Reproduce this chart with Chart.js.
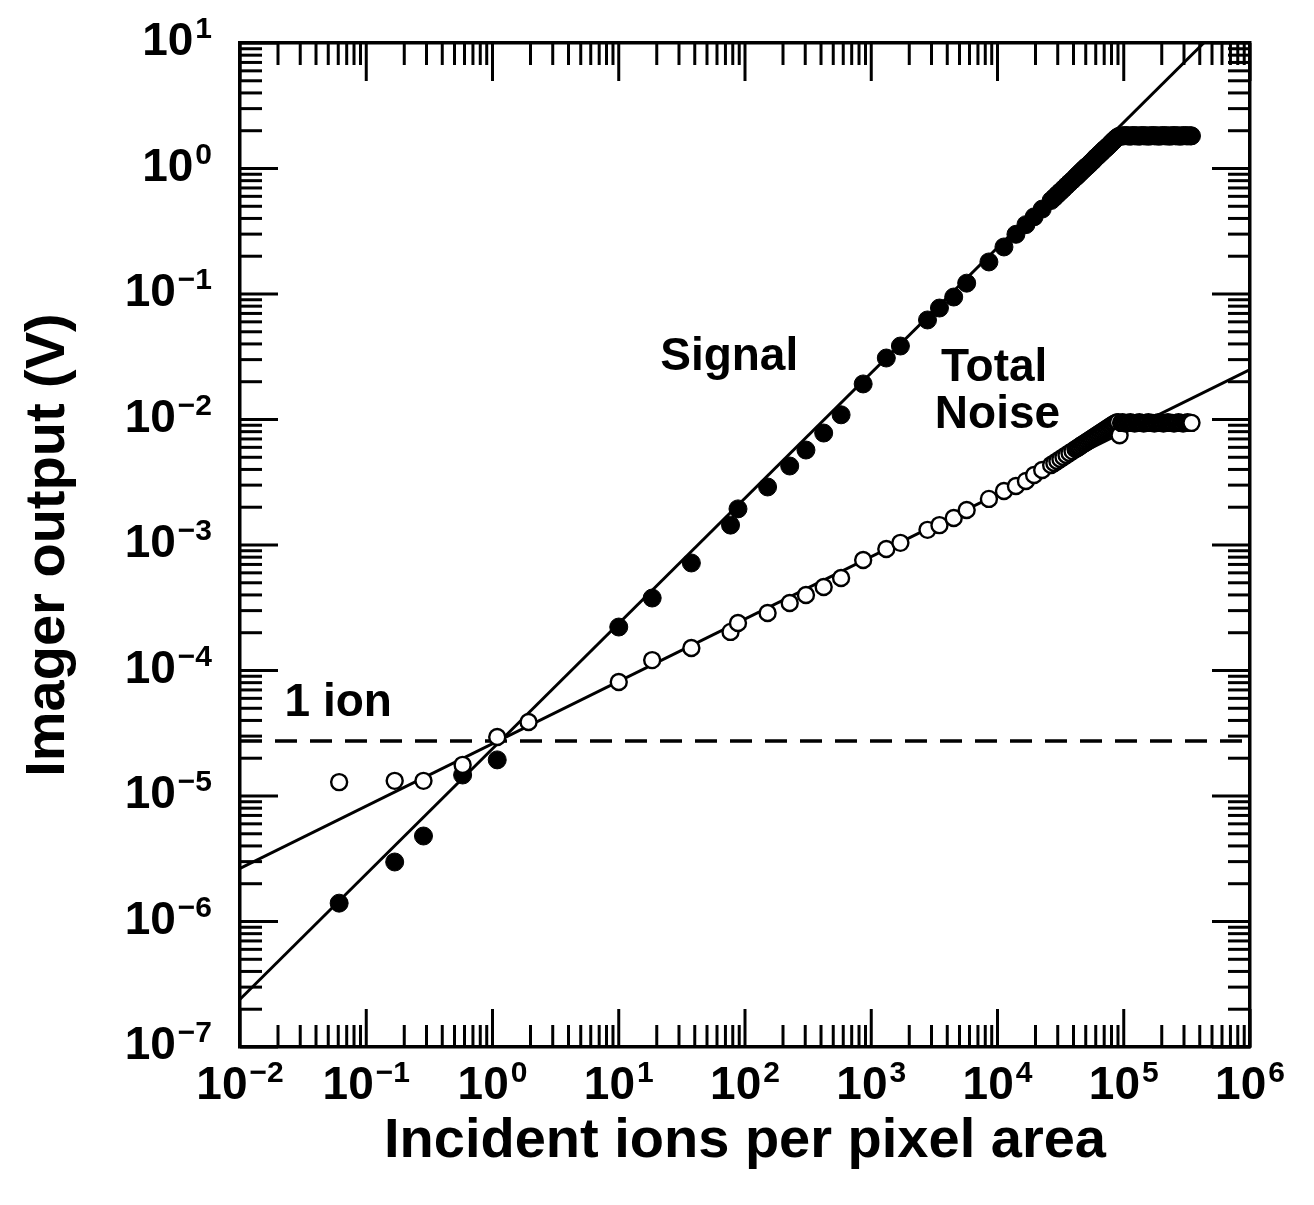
<!DOCTYPE html>
<html>
<head>
<meta charset="utf-8">
<script src="https://cdn.jsdelivr.net/npm/chart.js@4.4.0/dist/chart.umd.min.js"></script>
<style>
  html, body { margin: 0; padding: 0; background: #fff; }
  canvas { display: block; }
</style>
</head>
<body>
<canvas id="ionChart" width="1314" height="1205"></canvas>
<script>
// incident ions per pixel area (shared by both measured series)
const ions = [
  0.061, 0.168, 0.284, 0.58, 1.09, 1.93, 10, 18.4, 37.6, 76.8, 88, 151, 226,
  304, 420, 577, 863, 1316, 1702, 2790, 3470, 4500, 5700, 8550, 11250,
  14000, 16800, 19500, 22600, 26600,
  28200, 29800, 31500, 33300, 35200, 37200, 39300, 41500,
  42700, 43900, 45100, 46400, 47700, 49000, 50400, 51800, 53300, 54800,
  56300, 57900, 59500, 61200, 62900, 64700, 66500, 68400, 70300, 72300,
  74300, 76400, 78500, 80700, 83000, 85300, 87700, 90200, 92700,
  95300, 98000, 100700, 103500, 106400, 109400, 112500, 115600, 118800, 122100, 125500, 129000,
  132600, 136300, 140100, 144000, 148000, 152100, 156400, 160800, 165300, 169900, 174700, 179600,
  184600, 189800, 195100, 200600, 206200, 212000, 217900, 224000, 230300, 236700, 243300, 250100,
  257100, 264300, 271700, 279300, 287100, 295100, 303400, 311900, 320600, 329600, 338800, 344000
]

// signal (V), filled circles
const signalV = [
  1.40e-6, 2.98e-6, 4.80e-6, 1.47e-5, 1.94e-5, null, 2.22e-4, 3.78e-4, 7.19e-4, 1.44e-3, 1.94e-3, 2.90e-3, 4.26e-3,
  5.71e-3, 7.80e-3, 1.09e-2, 1.92e-2, 3.09e-2, 3.85e-2, 6.21e-2, 7.73e-2, 9.46e-2, 0.122, 0.180, 0.237,
  0.299, 0.357, 0.412, 0.475, 0.556,
  0.587, 0.620, 0.653, 0.689, 0.728, 0.767, 0.807, 0.851,
  0.875, 0.899, 0.923, 0.950, 0.975, 1.00, 1.03, 1.05, 1.08, 1.11,
  1.14, 1.17, 1.21, 1.24, 1.27, 1.31, 1.34, 1.38, 1.42, 1.45,
  1.49, 1.53, 1.57, 1.62, 1.66, 1.71, 1.75, 1.79, 1.81,
  1.81, 1.82, 1.82, 1.83, 1.82, 1.82, 1.81, 1.82, 1.83, 1.82, 1.82, 1.82,
  1.81, 1.82, 1.83, 1.82, 1.82, 1.82, 1.81, 1.82, 1.82, 1.83, 1.82, 1.82,
  1.82, 1.81, 1.82, 1.82, 1.83, 1.82, 1.82, 1.82, 1.81, 1.82, 1.82, 1.83,
  1.82, 1.82, 1.82, 1.81, 1.82, 1.82, 1.83, 1.82, 1.82, 1.82, 1.82, 1.82
]

// total noise (V), open circles
const noiseV = [
  1.29e-5, 1.32e-5, 1.32e-5, 1.77e-5, 2.95e-5, 3.89e-5, 8.10e-5, 1.21e-4, 1.51e-4, 2.03e-4, 2.39e-4, 2.87e-4, 3.45e-4,
  4.00e-4, 4.63e-4, 5.46e-4, 7.59e-4, 9.29e-4, 1.04e-3, 1.32e-3, 1.44e-3, 1.64e-3, 1.90e-3, 2.33e-3, 2.69e-3,
  2.95e-3, 3.24e-3, 3.61e-3, 3.96e-3, 4.34e-3,
  4.50e-3, 4.67e-3, 4.84e-3, 5.02e-3, 5.21e-3, 5.41e-3, 5.60e-3, 5.81e-3,
  5.91e-3, 6.02e-3, 6.13e-3, 6.25e-3, 6.37e-3, 6.47e-3, 6.59e-3, 6.71e-3, 6.84e-3, 6.97e-3,
  7.10e-3, 7.23e-3, 7.36e-3, 7.50e-3, 7.64e-3, 7.78e-3, 7.92e-3, 8.06e-3, 8.20e-3, 8.36e-3,
  8.51e-3, 8.67e-3, 8.83e-3, 8.99e-3, 9.16e-3, 9.31e-3, 9.48e-3, 9.52e-3, 7.5e-3,
  9.4e-3, 9.5e-3, 9.4e-3, 9.3e-3, 9.4e-3, 9.4e-3, 9.5e-3, 9.4e-3, 9.4e-3, 9.3e-3, 9.4e-3, 9.4e-3,
  9.5e-3, 9.4e-3, 9.4e-3, 9.3e-3, 9.4e-3, 9.4e-3, 9.5e-3, 9.4e-3, 9.4e-3, 9.4e-3, 9.3e-3, 9.4e-3,
  9.4e-3, 9.5e-3, 9.4e-3, 9.4e-3, 9.3e-3, 9.4e-3, 9.4e-3, 9.5e-3, 9.4e-3, 9.4e-3, 9.4e-3, 9.3e-3,
  9.4e-3, 9.4e-3, 9.5e-3, 9.4e-3, 9.4e-3, 9.3e-3, 9.4e-3, 9.4e-3, 9.5e-3, 9.4e-3, 9.4e-3, 9.4e-3
]

// fitted lines and the one-ion level, read at their ends
const signalFitX = [0.01, 4.3e5]
const signalFitV = [2.4e-7, 10]
const noiseFitX = [0.01, 1e6]
const noiseFitV = [2.65e-6, 0.025]
const oneIonX = [0.01, 1e6]
const oneIonV = [2.74e-5, 2.74e-5]

const xDecades = [1e-2, 1e-1, 1, 10, 1e2, 1e3, 1e4, 1e5, 1e6]
const xTickLabels = [['10', '−2'], ['10', '−1'], ['10', '0'], ['10', '1'], ['10', '2'], ['10', '3'], ['10', '4'], ['10', '5'], ['10', '6']]
const yDecades = [1e-7, 1e-6, 1e-5, 1e-4, 1e-3, 1e-2, 1e-1, 1, 10]
const yTickLabels = [['10', '−7'], ['10', '−6'], ['10', '−5'], ['10', '−4'], ['10', '−3'], ['10', '−2'], ['10', '−1'], ['10', '0'], ['10', '1']]
const minorSteps = [2, 3, 4, 5, 6, 7, 8, 9]

const notes = [
  { text: 'Signal', x: 75, y: 0.0315 },
  { text: 'Total', x: 9400, y: 0.0257 },
  { text: 'Noise', x: 10000, y: 0.0108 },
  { text: '1 ion', x: 0.06, y: 5.5e-5 },
]

const FONT = "'Liberation Sans', Arial, Helvetica, sans-serif"
const BASE_FONT = 'bold 46px ' + FONT
const EXP_FONT = 'bold 30px ' + FONT

function points(xs, ys) {
  return xs.map((x, i) => ({ x, y: ys[i] })).filter(p => p.y != null)
}

function logTicks(decades) {
  const out = []
  decades.forEach((d, i) => {
    out.push({ value: d, major: true })
    if (i < decades.length - 1) minorSteps.forEach(m => out.push({ value: d * m, major: false }))
  })
  return out
}

// tick marks point into the plot on all four sides
const inwardTicks = {
  id: 'inwardTicks',
  afterDraw(chart) {
    const { ctx, chartArea: a } = chart
    ctx.save()
    ctx.strokeStyle = '#000'
    ctx.lineWidth = 3
    ;['x', 'x2', 'y', 'y2'].forEach(id => {
      const s = chart.scales[id]
      s.ticks.forEach(t => {
        const p = s.getPixelForValue(t.value)
        const len = t.major ? 38 : 22
        ctx.beginPath()
        if (id === 'x') { ctx.moveTo(p, a.bottom); ctx.lineTo(p, a.bottom - len) }
        if (id === 'x2') { ctx.moveTo(p, a.top); ctx.lineTo(p, a.top + len) }
        if (id === 'y') { ctx.moveTo(a.left, p); ctx.lineTo(a.left + len, p) }
        if (id === 'y2') { ctx.moveTo(a.right, p); ctx.lineTo(a.right - len, p) }
        ctx.stroke()
      })
    })
    ctx.restore()
  }
}

// "10" with a raised exponent at every decade
const decadeLabels = {
  id: 'decadeLabels',
  afterDraw(chart) {
    const { ctx, chartArea: a, scales } = chart
    ctx.save()
    ctx.fillStyle = '#000'
    ctx.textBaseline = 'alphabetic'
    ctx.textAlign = 'left'
    const widths = ([b, e]) => {
      ctx.font = BASE_FONT
      const wb = ctx.measureText(b).width
      ctx.font = EXP_FONT
      const we = ctx.measureText(e).width
      return [wb, we]
    }
    const put = ([b, e], left, baseline, wb) => {
      ctx.font = BASE_FONT
      ctx.fillText(b, left, baseline)
      ctx.font = EXP_FONT
      ctx.fillText(e, left + wb + 2, baseline - 17)
    }
    xDecades.forEach((d, i) => {
      const lab = xTickLabels[i]
      const [wb, we] = widths(lab)
      const p = scales.x.getPixelForValue(d)
      put(lab, p - (wb + 2 + we) / 2, a.bottom + 52, wb)
    })
    yDecades.forEach((d, i) => {
      const lab = yTickLabels[i]
      const [wb, we] = widths(lab)
      const p = scales.y.getPixelForValue(d)
      put(lab, a.left - 28 - (wb + 2 + we), p + 12, wb)
    })
    ctx.restore()
  }
}

const noteText = {
  id: 'noteText',
  afterDatasetsDraw(chart) {
    const { ctx, scales } = chart
    ctx.save()
    ctx.fillStyle = '#000'
    ctx.font = BASE_FONT
    ctx.textAlign = 'center'
    ctx.textBaseline = 'middle'
    notes.forEach(n => {
      ctx.fillText(n.text, scales.x.getPixelForValue(n.x), scales.y.getPixelForValue(n.y))
    })
    ctx.restore()
  }
}

const frame = { display: true, width: 3.5, color: '#000' }
const noGrid = { display: false, drawTicks: false, drawOnChartArea: false }
const fitBox = (w, h) => s => {
  if (w != null) s.width = w
  if (h != null) s.height = h
  s.paddingTop = 0
  s.paddingBottom = 0
  s.paddingLeft = 0
  s.paddingRight = 0
}

const ionChart = new Chart(document.getElementById('ionChart'), {
  type: 'scatter',
  data: {
    datasets: [
      {
        label: 'Total Noise',
        data: points(ions, noiseV),
        pointRadius: 8,
        pointBackgroundColor: '#fff',
        pointBorderColor: '#000',
        pointBorderWidth: 2.4,
        order: 0,
      },
      {
        label: 'Signal',
        data: points(ions, signalV),
        pointRadius: 9,
        pointBackgroundColor: '#000',
        pointBorderColor: '#000',
        pointBorderWidth: 1,
        order: 1,
      },
      {
        label: 'Signal fit',
        data: points(signalFitX, signalFitV),
        showLine: true,
        borderColor: '#000',
        borderWidth: 3,
        pointRadius: 0,
        order: 2,
      },
      {
        label: 'Noise fit',
        data: points(noiseFitX, noiseFitV),
        showLine: true,
        borderColor: '#000',
        borderWidth: 3,
        pointRadius: 0,
        order: 2,
      },
      {
        label: '1 ion',
        data: points(oneIonX, oneIonV),
        showLine: true,
        borderColor: '#000',
        borderWidth: 3.5,
        borderDash: [22, 13],
        pointRadius: 0,
        order: 3,
      },
    ],
  },
  options: {
    responsive: false,
    animation: false,
    layout: { padding: 0 },
    plugins: {
      legend: { display: false },
      tooltip: { enabled: false },
    },
    scales: {
      x: {
        type: 'logarithmic',
        position: 'bottom',
        min: 1e-2,
        max: 1e6,
        afterBuildTicks: s => { s.ticks = logTicks(xDecades) },
        afterFit: fitBox(null, 158),
        grid: noGrid,
        border: frame,
        ticks: { display: false, autoSkip: false },
        title: {
          display: true,
          text: 'Incident ions per pixel area',
          color: '#000',
          font: { family: FONT, size: 56, weight: 'bold' },
          padding: { top: 0, bottom: 30 },
        },
      },
      x2: {
        type: 'logarithmic',
        position: 'top',
        min: 1e-2,
        max: 1e6,
        afterBuildTicks: s => { s.ticks = logTicks(xDecades) },
        afterFit: fitBox(null, 43),
        grid: noGrid,
        border: frame,
        ticks: { display: false, autoSkip: false },
      },
      y: {
        type: 'logarithmic',
        position: 'left',
        min: 1e-7,
        max: 10,
        afterBuildTicks: s => { s.ticks = logTicks(yDecades) },
        afterFit: fitBox(240, null),
        grid: noGrid,
        border: frame,
        ticks: { display: false, autoSkip: false },
        title: {
          display: true,
          text: 'Imager output (V)',
          color: '#000',
          font: { family: FONT, size: 56, weight: 'bold' },
          padding: { top: 15, bottom: 0 },
        },
      },
      y2: {
        type: 'logarithmic',
        position: 'right',
        min: 1e-7,
        max: 10,
        afterBuildTicks: s => { s.ticks = logTicks(yDecades) },
        afterFit: fitBox(64, null),
        grid: noGrid,
        border: frame,
        ticks: { display: false, autoSkip: false },
      },
    },
  },
  plugins: [inwardTicks, decadeLabels, noteText],
})
</script>
</body>
</html>
